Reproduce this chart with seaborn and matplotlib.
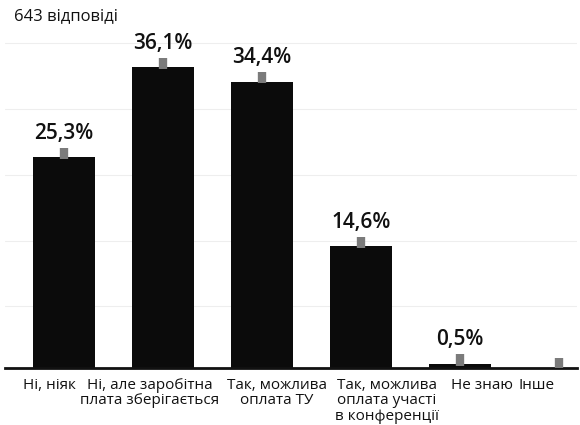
import matplotlib
matplotlib.use("Agg")
import matplotlib.pyplot as plt
import matplotlib.transforms as mtransforms
import numpy as np
import pandas as pd
import seaborn as sns

# Survey answers and their shares (%)
categories = [
    "Ні, ніяк",
    "Ні, але заробітна\nплата зберігається",
    "Так, можлива\nоплата ТУ",
    "Так, можлива\nоплата участі\nв конференції",
    "Не знаю",
    "Інше",
]
shares = [25.3, 36.1, 34.4, 14.6, 0.5, 0.0]
value_labels = ["25,3%", "36,1%", "34,4%", "14,6%", "0,5%", ""]
title_text = "643 відповіді"
grid_levels = [7.4, 15.3, 23.2, 31.1, 39.0]
# horizontal nudges (pixels) for the category captions
caption_nudge = [-15, -13, 15, 26, 22, -23]

sns.set_theme(style="white")
plt.rcParams["font.family"] = ["Open Sans", "DejaVu Sans"]

df = pd.DataFrame({"answer": categories, "share": shares})

fig = plt.figure(figsize=(5.8, 4.25), dpi=100)
ax = fig.add_axes([5 / 580, 57 / 425, 572 / 580, 328 / 425])

for g in grid_levels:
    ax.axhline(g, color="#eeeeee", lw=0.8, zorder=0)

sns.barplot(data=df, x="answer", y="share", color="#0b0b0b", width=0.626,
            saturation=1, linewidth=0, ax=ax, zorder=2)

# Small grey caps sitting on top of every bar
vals = np.array(shares)
ax.vlines(np.arange(len(shares)), vals - 0.2, vals + 1.15,
          color="#7b7b7b", lw=6, zorder=3)

for i, (v, lab) in enumerate(zip(shares, value_labels)):
    if lab:
        ax.annotate(lab, (i, v + 1.15), xytext=(0, 3), textcoords="offset points",
                    ha="center", va="bottom", fontsize=15, fontweight="semibold",
                    color="#111111")

ax.set_xlim(-0.596, 5.18)
ax.set_ylim(0, 39.4)
ax.set_xlabel("")
ax.set_ylabel("")
ax.set_yticks([])
ax.tick_params(axis="x", length=0, pad=7, labelsize=11, colors="#111111")
for lbl, dx in zip(ax.get_xticklabels(), caption_nudge):
    lbl.set_linespacing(1.06)
    lbl.set_transform(lbl.get_transform() +
                      mtransforms.ScaledTranslation(dx / 100, 0, fig.dpi_scale_trans))

for s in ["top", "right", "left"]:
    ax.spines[s].set_visible(False)
ax.spines["bottom"].set_color("#111111")
ax.spines["bottom"].set_linewidth(2)

fig.text(14 / 580, 1 - 16 / 425, title_text, fontsize=12, color="#111111",
         ha="left", va="center")

fig.savefig("out.png", dpi=100, facecolor="white")
